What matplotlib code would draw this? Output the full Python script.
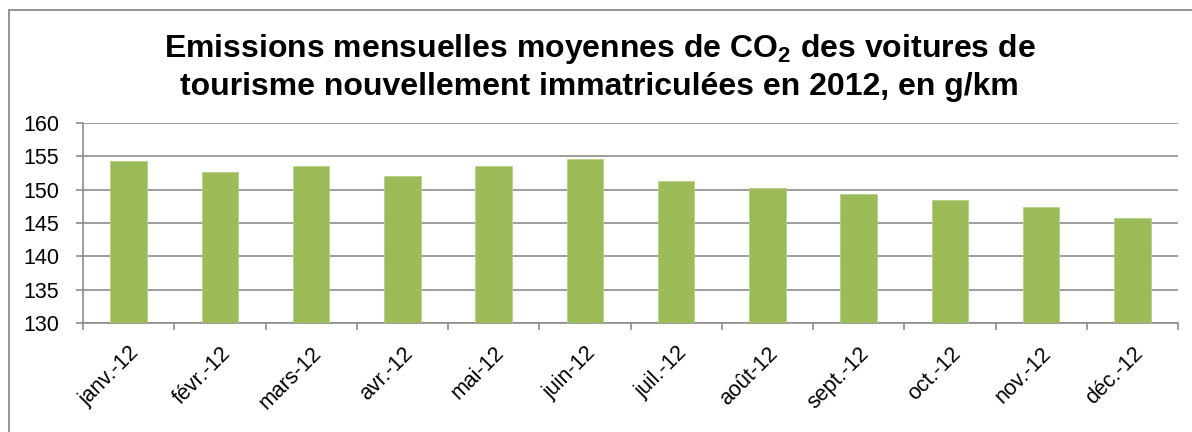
import matplotlib
matplotlib.use("Agg")
import matplotlib.pyplot as plt
from matplotlib.patches import Rectangle
import numpy as np

months = ["janv.-12", "févr.-12", "mars-12", "avr.-12", "mai-12", "juin-12",
          "juil.-12", "août-12", "sept.-12", "oct.-12", "nov.-12", "déc.-12"]
values = [154.3, 152.7, 153.5, 152.1, 153.5, 154.6,
          151.3, 150.2, 149.4, 148.5, 147.4, 145.8]
yticks = [130, 135, 140, 145, 150, 155, 160]

plt.rcParams['font.family'] = ['Liberation Sans', 'DejaVu Sans']
plt.rcParams['mathtext.fontset'] = 'custom'
plt.rcParams['mathtext.rm'] = 'Liberation Sans:bold'
plt.rcParams['mathtext.bf'] = 'Liberation Sans:bold'

W, H = 1192, 432
fig = plt.figure(figsize=(W/100, H/100), dpi=100)
fig.patch.set_facecolor('white')

# outer chart border
fig.add_artist(Rectangle((9/W, -0.1), 1.2, (H-10)/H + 0.1, transform=fig.transFigure,
                         fill=False, edgecolor='#8a8a8a', linewidth=1.3))

ax = fig.add_axes([83/W, 1-323.3/H, (1178-83)/W, (323.3-122.7)/H])
x = np.arange(len(months))
ax.bar(x, values, width=0.4, color='#9BBB59', edgecolor='#b5cf85', linewidth=0.6,
       bottom=0, zorder=3)
ax.set_ylim(130, 160)
ax.set_xlim(-0.5, len(months)-0.5)
ax.set_yticks(yticks)
ax.set_yticklabels([str(v) for v in yticks], fontsize=15.5)
ax.yaxis.grid(True, color='#8c8c8c', linewidth=1.2, zorder=0)
ax.set_axisbelow(True)

ax.set_xticks(x)
ax.set_xticklabels(months, rotation=45, ha='right', va='top',
                   rotation_mode='anchor', fontsize=15.5)
ax.set_xticks(np.arange(-0.5, len(months), 1.0), minor=True)
ax.tick_params(axis='x', which='major', length=0, pad=14)
ax.tick_params(axis='x', which='minor', length=5, color='#8c8c8c', width=1.2)
ax.tick_params(axis='y', length=5, color='#8c8c8c', width=1.2, pad=12)

for s in ['top', 'right']:
    ax.spines[s].set_visible(False)
for s in ['left', 'bottom']:
    ax.spines[s].set_color('#8c8c8c')
    ax.spines[s].set_linewidth(1.2)

fig.text(0.503, 1-57/H, r"Emissions mensuelles moyennes de CO$_\mathbf{2}$ des voitures de",
         ha='center', va='baseline', fontsize=23, fontweight='bold')
fig.text(0.503, 1-95/H, "tourisme nouvellement immatriculées en 2012, en g/km",
         ha='center', va='baseline', fontsize=23, fontweight='bold')

fig.savefig("out.png", dpi=100, facecolor='white')
